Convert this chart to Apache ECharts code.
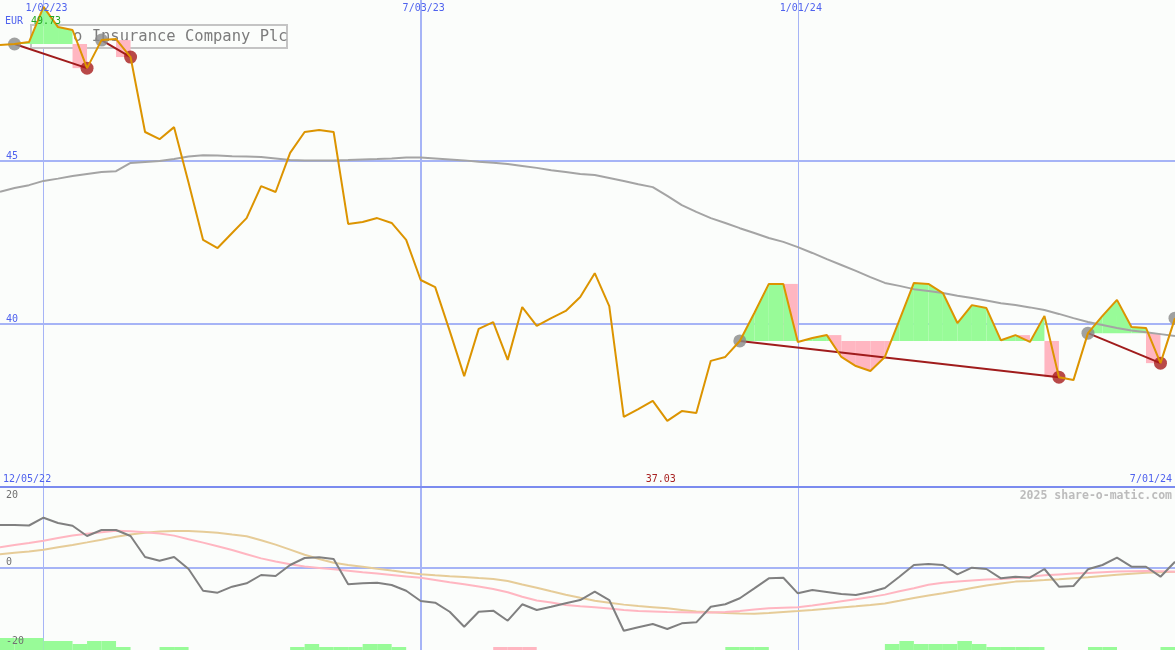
<!DOCTYPE html>
<html>
<head>
<meta charset="utf-8">
<title>Insurance Company Plc - share chart</title>
<script src="https://cdn.jsdelivr.net/npm/echarts@6.0.0/dist/echarts.min.js"></script>
<style>
html,body{margin:0;padding:0;background:#fbfdfb;}
#chart{width:1175px;height:650px;}
</style>
</head>
<body>
<div id="chart"></div>
<script>
// ---------------- data ----------------
const currency = 'EUR';
const companyTail = 'o Insurance Company Plc';
const rangeStart = '12/05/22';
const rangeEnd = '7/01/24';
const watermark = '2025 share-o-matic.com';
const dateTicks = ['1/02/23', '7/03/23', '1/01/24'];
const priceTicks = [40, 45];
const oscTicks = [-20, 0, 20];

// weekly closing price
const price = [
  48.56,48.59,48.65,49.73,49.11,49.02,47.85,48.71,48.74,48.19,
  45.89,45.67,46.04,44.33,42.58,42.33,42.79,43.25,44.23,44.05,
  45.25,45.89,45.95,45.89,43.07,43.13,43.25,43.10,42.58,41.35,
  41.13,39.79,38.40,39.85,40.06,38.90,40.52,39.94,40.18,40.40,
  40.83,41.56,40.55,37.15,37.39,37.64,37.03,37.33,37.27,38.87,
  38.99,39.48,40.34,41.23,41.23,39.45,39.57,39.66,38.99,38.71,
  38.56,38.99,40.12,41.26,41.23,40.95,40.03,40.58,40.49,39.50,
  39.66,39.45,40.25,38.37,38.28,39.72,40.25,40.74,39.91,39.88,
  38.80,40.18
];
// long moving average
const movingAvg = [
  44.06,44.17,44.26,44.39,44.46,44.54,44.60,44.66,44.69,44.94,
  44.97,45.00,45.06,45.14,45.18,45.17,45.15,45.14,45.12,45.08,
  45.03,45.02,45.02,45.02,45.03,45.05,45.06,45.08,45.11,45.11,
  45.08,45.05,45.02,44.98,44.95,44.91,44.85,44.79,44.72,44.66,
  44.60,44.57,44.48,44.39,44.29,44.20,43.93,43.65,43.44,43.25,
  43.10,42.94,42.79,42.64,42.52,42.36,42.18,41.99,41.81,41.63,
  41.44,41.26,41.17,41.07,41.01,40.95,40.87,40.80,40.72,40.64,
  40.58,40.51,40.43,40.31,40.18,40.06,39.97,39.88,39.80,39.75,
  39.69,39.63
];
// signal points (week index)
const buyIdx = [1, 7, 51, 75, 81];
const sellIdx = [6, 9, 73, 80];

// lower indicator panel
const oscFast = [
  11.68,11.68,11.55,13.67,12.23,11.49,8.70,10.33,10.33,8.70,
  2.99,1.98,2.99,-0.27,-6.17,-6.71,-5.08,-4.16,-1.90,-2.17,
  0.82,2.72,2.91,2.45,-4.43,-4.16,-3.99,-4.62,-6.17,-8.97,
  -9.43,-11.88,-15.95,-11.88,-11.60,-14.32,-9.86,-11.41,-10.52,-9.59,
  -8.70,-6.44,-8.70,-17.04,-16.11,-15.22,-16.58,-15.03,-14.76,-10.52,
  -9.86,-8.23,-5.52,-2.80,-2.64,-6.88,-5.98,-6.52,-7.07,-7.34,
  -6.52,-5.43,-2.36,0.82,1.09,0.82,-1.71,0.08,-0.27,-2.80,
  -2.36,-2.64,-0.27,-5.08,-4.89,-0.35,0.82,2.80,0.35,0.35,
  -2.36,1.71
];
const oscMid = [
  5.63,6.25,6.79,7.42,8.15,8.83,9.32,9.70,10.11,10.00,
  9.73,9.40,8.80,7.83,6.90,5.90,4.89,3.75,2.61,1.74,
  1.03,0.41,0.03,-0.35,-0.73,-1.14,-1.52,-1.90,-2.28,-2.66,
  -3.26,-3.86,-4.43,-5.00,-5.68,-6.60,-7.83,-8.83,-9.40,-10.03,
  -10.38,-10.68,-11.03,-11.39,-11.68,-11.82,-11.96,-12.04,-12.12,-12.09,
  -11.96,-11.68,-11.28,-10.92,-10.79,-10.68,-10.19,-9.62,-9.05,-8.48,
  -7.91,-7.23,-6.30,-5.49,-4.57,-4.02,-3.70,-3.42,-3.13,-2.96,
  -2.74,-2.36,-1.96,-1.74,-1.52,-1.33,-1.14,-0.98,-0.90,-0.82,
  -0.90,-1.01
];
const oscSlow = [
  3.75,4.13,4.51,4.95,5.63,6.28,6.96,7.66,8.48,9.08,
  9.57,9.89,10.05,10.05,9.86,9.57,9.08,8.61,7.55,6.36,
  5.00,3.59,2.45,1.41,0.84,0.33,-0.19,-0.71,-1.22,-1.71,
  -1.98,-2.23,-2.47,-2.72,-2.96,-3.53,-4.46,-5.35,-6.33,-7.28,
  -8.10,-8.89,-9.46,-9.95,-10.35,-10.65,-10.95,-11.39,-11.82,-12.01,
  -12.20,-12.36,-12.42,-12.20,-11.96,-11.71,-11.41,-11.06,-10.73,-10.41,
  -10.08,-9.62,-8.91,-8.18,-7.50,-6.88,-6.20,-5.46,-4.78,-4.21,
  -3.70,-3.51,-3.29,-3.04,-2.77,-2.50,-2.17,-1.85,-1.55,-1.28,
  -1.14,-1.01
];
// weekly histogram at the bottom (positive = green, negative = pink)
const histo = [
  4,4,4,3,3,2,3,3,1,0,
  0,1,1,0,0,0,0,0,0,0,
  1,2,1,1,1,2,2,1,0,0,
  0,0,0,0,-1,-1,-1,0,0,0,
  0,0,0,0,0,0,0,0,0,0,
  1,1,1,0,0,0,0,0,0,0,
  0,2,3,2,2,2,3,2,1,1,
  1,1,0,0,0,1,1,0,0,0,
  1
];

// weekly date categories (Mondays)
const dates = [];
for (let i = 0; i < price.length; i++) {
  const d = new Date(Date.UTC(2022, 11, 12 + 7 * i));
  dates.push((d.getUTCMonth() + 1) + '/' + String(d.getUTCDate()).padStart(2, '0') + '/' + String(d.getUTCFullYear()).slice(2));
}

// ---------------- style ----------------
const FONT = 'DejaVu Sans Mono';
const BLUE = '#4f62ee';
const GRIDC = '#a6b4f6';
const GREEN = '#98fb98';
const PINK = '#ffb6c1';
const BG = '#fbfdfb';
const PMIN = 35, PMAX = 49.94;
const OMIN = -22.28, OMAX = 22.01;

const trades = sellIdx.map((s, k) => [buyIdx[k], s]);
const maxV = Math.max(...price), minV = Math.min(...price);
const iMax = price.indexOf(maxV), iMin = price.indexOf(minV);

function fillRender(params, api) {
  const under = [], green = [], pink = [];
  trades.forEach(([a, b]) => {
    const base = price[a];
    const yb = api.coord([a, base])[1];
    for (let i = a; i < b; i++) {
      const p0 = api.coord([i, price[i]]), p1 = api.coord([i + 1, price[i + 1]]);
      const d0 = price[i] - base, d1 = price[i + 1] - base;
      if (i === b - 1) {
        pink.push({type: 'rect', shape: {x: p0[0], y: Math.min(yb, p1[1]), width: p1[0] - p0[0], height: Math.abs(p1[1] - yb)}, style: {fill: PINK}});
        continue;
      }
      if (d0 > 0 && d1 < 0) {
        under.push({type: 'rect', shape: {x: p0[0], y: p0[1], width: p1[0] - p0[0], height: yb - p0[1]}, style: {fill: PINK}});
      }
      if (d0 >= 0 && d1 >= 0) {
        green.push({type: 'polygon', shape: {points: [[p0[0], yb], p0, p1, [p1[0], yb]]}, style: {fill: GREEN}});
      } else if (d0 <= 0 && d1 <= 0) {
        pink.push({type: 'polygon', shape: {points: [[p0[0], yb], p0, p1, [p1[0], yb]]}, style: {fill: PINK}});
      } else {
        const t = d0 / (d0 - d1);
        const xc = p0[0] + t * (p1[0] - p0[0]);
        const first = {type: 'polygon', shape: {points: [[p0[0], yb], p0, [xc, yb]]}, style: {fill: d0 > 0 ? GREEN : PINK}};
        const second = {type: 'polygon', shape: {points: [[xc, yb], p1, [p1[0], yb]]}, style: {fill: d1 > 0 ? GREEN : PINK}};
        (d0 > 0 ? green : pink).push(first);
        (d1 > 0 ? green : pink).push(second);
      }
    }
  });
  return {type: 'group', children: under.concat(green, pink)};
}

const lbl = (text, color, extra) => Object.assign({
  show: true, formatter: text, color: color, fontFamily: FONT, fontSize: 10
}, extra);

const vLines = dateTicks.map((d, k) => ({xAxis: d, lineStyle: {width: k === 1 ? 2 : 1}}));

const series = [
  { // trade fills
    type: 'custom', xAxisIndex: 0, yAxisIndex: 0, z: 2, silent: true,
    data: [[0, 40]], renderItem: fillRender
  },
  { // moving average + main grid lines/labels
    type: 'line', xAxisIndex: 0, yAxisIndex: 0, z: 3, data: movingAvg,
    symbol: 'none', lineStyle: {color: '#a4a4a4', width: 2}, silent: true,
    markLine: {
      silent: true, z: 0, symbol: ['none', 'none'], label: {show: false},
      lineStyle: {color: GRIDC, width: 2, type: 'solid'},
      data: vLines.concat(priceTicks.map(v => ({yAxis: v})))
    },
    markPoint: {
      silent: true, symbol: 'circle', symbolSize: 0, z: 8,
      data: dateTicks.map(d => ({coord: [d, PMAX], label: lbl(d, BLUE, {position: 'bottom', distance: 3, offset: [3, 0]})}))
        .concat(priceTicks.map(v => ({coord: [dates[0], v], label: lbl(String(v), BLUE, {position: 'right', distance: 6, offset: [0, -5]})})))
    }
  }
];

trades.forEach(([a, b]) => {
  series.push({
    type: 'line', xAxisIndex: 0, yAxisIndex: 0, z: 4, silent: true,
    data: [[a, price[a]], [b, price[b]]], symbol: 'none',
    lineStyle: {color: '#a01c1c', width: 2}
  });
});

series.push(
  {
    type: 'scatter', xAxisIndex: 0, yAxisIndex: 0, z: 5, silent: true,
    data: buyIdx.map(i => [i, price[i]]), symbolSize: 13, itemStyle: {color: '#8a8a8a'}
  },
  {
    type: 'scatter', xAxisIndex: 0, yAxisIndex: 0, z: 5, silent: true,
    data: sellIdx.map(i => [i, price[i]]), symbolSize: 13, itemStyle: {color: '#a81c1c'}
  },
  {
    type: 'line', xAxisIndex: 0, yAxisIndex: 0, z: 6, silent: true, data: price,
    symbol: 'none', lineStyle: {color: '#dc9400', width: 2},
    markPoint: {
      silent: true, symbol: 'circle', symbolSize: 0, z: 8,
      data: [
        {coord: [iMax, PMAX], label: lbl(maxV.toFixed(2), '#22a822', {position: 'inside', offset: [2.5, 21]})},
        {coord: [iMin, PMIN], label: lbl(minV.toFixed(2), '#a82222', {position: 'inside', offset: [-6.5, -8]})}
      ]
    }
  },
  {
    type: 'line', xAxisIndex: 1, yAxisIndex: 1, z: 2, silent: true, data: oscSlow,
    symbol: 'none', lineStyle: {color: '#e6cc98', width: 2}
  },
  {
    type: 'line', xAxisIndex: 1, yAxisIndex: 1, z: 3, silent: true, data: oscMid,
    symbol: 'none', lineStyle: {color: PINK, width: 2}
  },
  {
    type: 'line', xAxisIndex: 1, yAxisIndex: 1, z: 4, silent: true, data: oscFast,
    symbol: 'none', lineStyle: {color: '#808080', width: 2},
    markLine: {
      silent: true, z: 0, symbol: ['none', 'none'], label: {show: false},
      lineStyle: {color: GRIDC, width: 2, type: 'solid'},
      data: vLines.concat([{yAxis: 0}])
    },
    markPoint: {
      silent: true, symbol: 'circle', symbolSize: 0, z: 8,
      data: oscTicks.map(v => ({coord: [dates[0], v], label: lbl(String(v), '#707070', {position: 'right', distance: 6, offset: [0, v === 0 ? -6 : (v > 0 ? 1.5 : 0)]})}))
    }
  },
  {
    type: 'bar', xAxisIndex: 2, yAxisIndex: 2, z: 1, silent: true,
    barCategoryGap: '0%',
    data: histo.map(v => ({value: Math.abs(v), itemStyle: {color: v >= 0 ? GREEN : PINK}}))
  }
);

const txt = (x, y, text, fill, font, align) => ({
  type: 'text', x: x, y: y, z: 1, silent: true,
  style: {text: text, fill: fill, font: font, align: align || 'left', verticalAlign: 'middle'}
});

const option = {
  backgroundColor: BG,
  animation: false,
  grid: [
    {left: 0, right: 0, top: 0, height: 487},
    {left: 0, right: 0, top: 487, height: 163},
    {left: 0, right: 0, top: 626, height: 24}
  ],
  xAxis: [
    {type: 'category', gridIndex: 0, data: dates, boundaryGap: false,
      axisLine: {show: true, lineStyle: {color: '#7b8bef', width: 2}}, axisTick: {show: false},
      axisLabel: {show: false}, splitLine: {show: false}},
    {type: 'category', gridIndex: 1, data: dates, boundaryGap: false, show: false},
    {type: 'category', gridIndex: 2, data: dates.slice(0, histo.length), boundaryGap: true, show: false}
  ],
  yAxis: [
    {type: 'value', gridIndex: 0, min: PMIN, max: PMAX, show: false, splitLine: {show: false}},
    {type: 'value', gridIndex: 1, min: OMIN, max: OMAX, show: false, splitLine: {show: false}},
    {type: 'value', gridIndex: 2, min: 0, max: 8, show: false, splitLine: {show: false}}
  ],
  graphic: [
    {type: 'rect', z: 1, silent: true, shape: {x: 31, y: 25, width: 256, height: 23},
      style: {fill: BG, stroke: '#c4c4c4', lineWidth: 2}},
    txt(73, 37, companyTail, '#7c7c7c', '15.5px "DejaVu Sans Mono"'),
    txt(5, 21, currency, BLUE, '10px "DejaVu Sans Mono"'),
    txt(3, 479, rangeStart, BLUE, '10px "DejaVu Sans Mono"'),
    txt(1172, 479, rangeEnd, BLUE, '10px "DejaVu Sans Mono"', 'right'),
    txt(1172, 496, watermark, '#bcbcbc', 'bold 11.5px "DejaVu Sans Mono"', 'right')
  ],
  series: series
};

const chart = echarts.init(document.getElementById('chart'), null, {renderer: 'canvas'});
chart.setOption(option);
</script>
</body>
</html>
